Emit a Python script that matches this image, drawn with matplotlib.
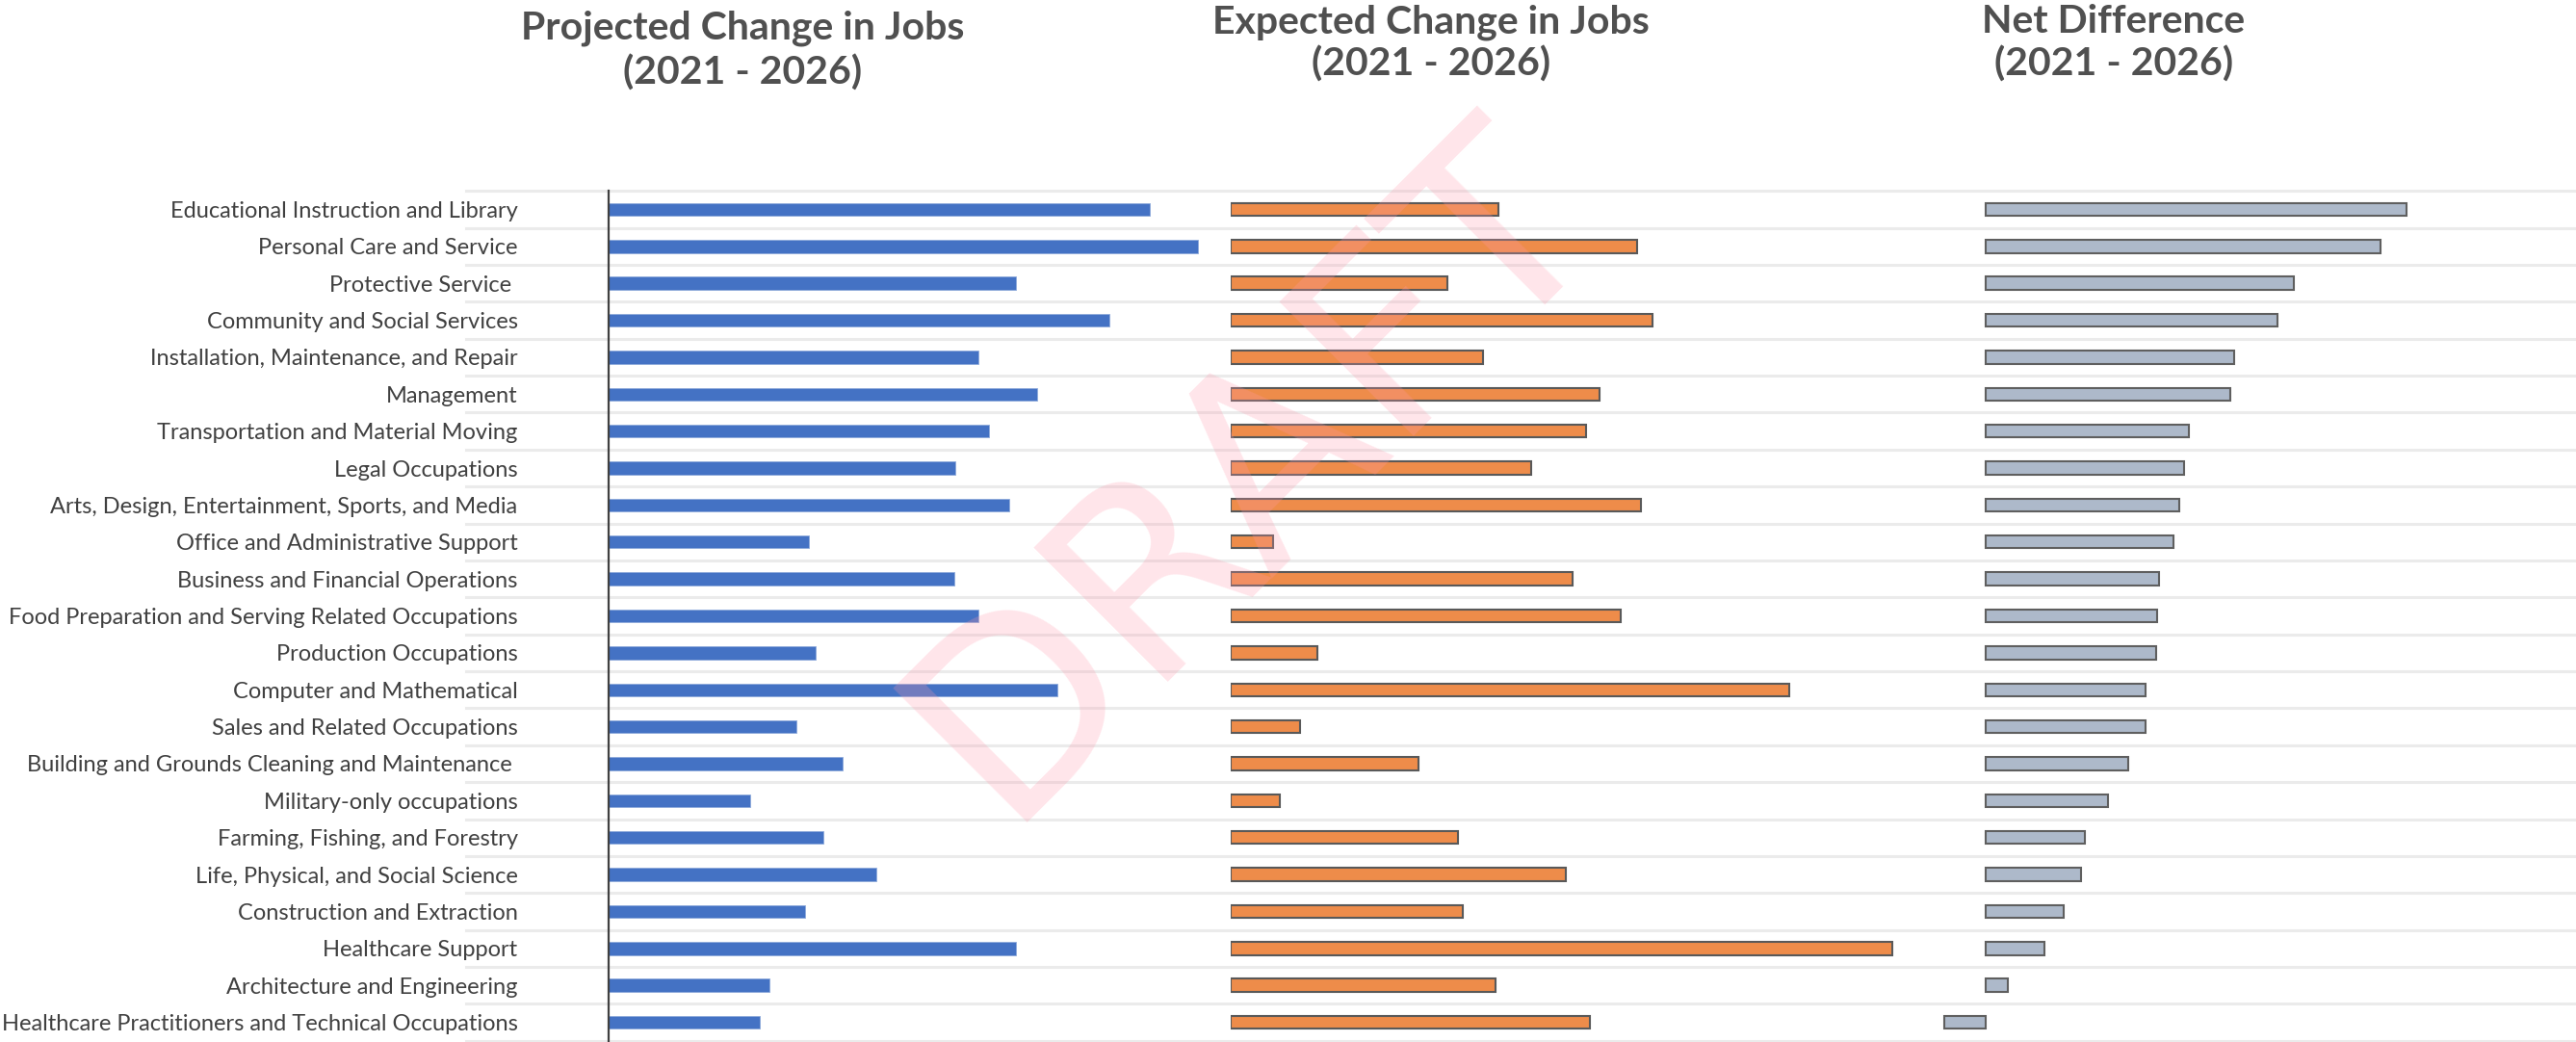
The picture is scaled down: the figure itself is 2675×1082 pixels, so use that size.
import numpy as np
import matplotlib.pyplot as plt

# Occupation groups, top to bottom as in the chart
categories = [
    'Educational Instruction and Library',
    'Personal Care and Service',
    'Protective Service ',
    'Community and Social Services',
    'Installation, Maintenance, and Repair',
    'Management',
    'Transportation and Material Moving',
    'Legal Occupations',
    'Arts, Design, Entertainment, Sports, and Media',
    'Office and Administrative Support',
    'Business and Financial Operations',
    'Food Preparation and Serving Related Occupations',
    'Production Occupations',
    'Computer and Mathematical',
    'Sales and Related Occupations',
    'Building and Grounds Cleaning and Maintenance ',
    'Military-only occupations',
    'Farming, Fishing, and Forestry',
    'Life, Physical, and Social Science',
    'Construction and Extraction',
    'Healthcare Support',
    'Architecture and Engineering',
    'Healthcare Practitioners and Technical Occupations',
]

# values (same unit in all three panels)
projected = [5940, 6470, 4470, 5500, 4060, 4700, 4180, 3810, 4400, 2200, 3800, 4060,
             2270, 4930, 2060, 2570, 1550, 2360, 2940, 2160, 4470, 1770, 1660]
expected = [1570, 2380, 1270, 2470, 1480, 2160, 2080, 1760, 2400, 250, 2000, 2280,
            510, 3270, 410, 1100, 290, 1330, 1960, 1360, 3870, 1550, 2100]
net_diff = [4370, 4100, 3200, 3030, 2580, 2540, 2110, 2060, 2010, 1950, 1800, 1780,
            1770, 1660, 1660, 1480, 1270, 1030, 990, 810, 610, 230, -430]

titles = ['Projected Change in Jobs', 'Expected Change in Jobs', 'Net Difference']
period = '(2021 - 2026)'

W, H = 2675, 1082
fig = plt.figure(figsize=(W / 100, H / 100), dpi=100)
fig.patch.set_facecolor('white')


def box(x0, x1, y0=198.3, y1=1080.7):
    # pixel box -> figure fraction rect
    return [x0 / W, 1 - y1 / H, (x1 - x0) / W, (y1 - y0) / H]


n = len(categories)
y = np.arange(n)

# background gridlines running across all three panels
bg = fig.add_axes(box(484, 2675))
bg.set_ylim(n - 0.5, -0.5)
bg.set_xlim(0, 1)
for b in np.arange(-0.5, n):
    bg.axhline(b, color='#ebebeb', lw=2.2, clip_on=False)
bg.axis('off')

# panel 1: projected
ax1 = fig.add_axes(box(632, 1260))
ax1.patch.set_alpha(0)
ax1.barh(y, projected, height=0.35, color='#4472C4', edgecolor='#8eaadb', linewidth=0.6)
ax1.set_xlim(0, 6640)
ax1.set_ylim(n - 0.5, -0.5)
for s in ['top', 'right', 'bottom']:
    ax1.spines[s].set_visible(False)
ax1.spines['left'].set_color('#404040')
ax1.spines['left'].set_linewidth(1.6)
ax1.set_xticks([])
ax1.set_yticks(y)
ax1.set_yticklabels(categories, fontsize=17, color='#404040', family='Lato')
ax1.tick_params(axis='y', length=0, pad=68)

# panel 2: expected
ax2 = fig.add_axes(box(1277.6, 1980))
ax2.patch.set_alpha(0)
ax2.barh(y, expected, height=0.35, color='#EE8C4A', edgecolor='#595959', linewidth=1.5)
ax2.set_xlim(0, 3955)
ax2.set_ylim(n - 0.5, -0.5)
ax2.axis('off')

# panel 3: net difference
ax3 = fig.add_axes(box(1990, 2600))
ax3.patch.set_alpha(0)
ax3.barh(y, net_diff, height=0.35, color='#ADB9CA', edgecolor='#5f5f5f', linewidth=1.5)
ax3.set_xlim(-720, 5380)
ax3.set_ylim(n - 0.5, -0.5)
ax3.axis('off')

# titles
title_x = [771 / W, 1486 / W, 2195 / W]
title_y = [(41, 88), (34, 79), (34, 79)]
for t, xc, (b1, b2) in zip(titles, title_x, title_y):
    fig.text(xc, 1 - b1 / H, t, ha='center', va='baseline', fontsize=29.5,
             fontweight='bold', color='#505050', family='Lato')
    fig.text(xc, 1 - b2 / H, period, ha='center', va='baseline', fontsize=29.5,
             fontweight='bold', color='#505050', family='Lato')

# watermark
fig.text(0.486, 0.548, 'DRAFT', fontsize=194, rotation=45, rotation_mode='anchor',
         ha='center', va='center', color=(1.0, 0.6, 0.68), alpha=0.25, zorder=10)

fig.savefig('out.png', dpi=100, facecolor='white')
